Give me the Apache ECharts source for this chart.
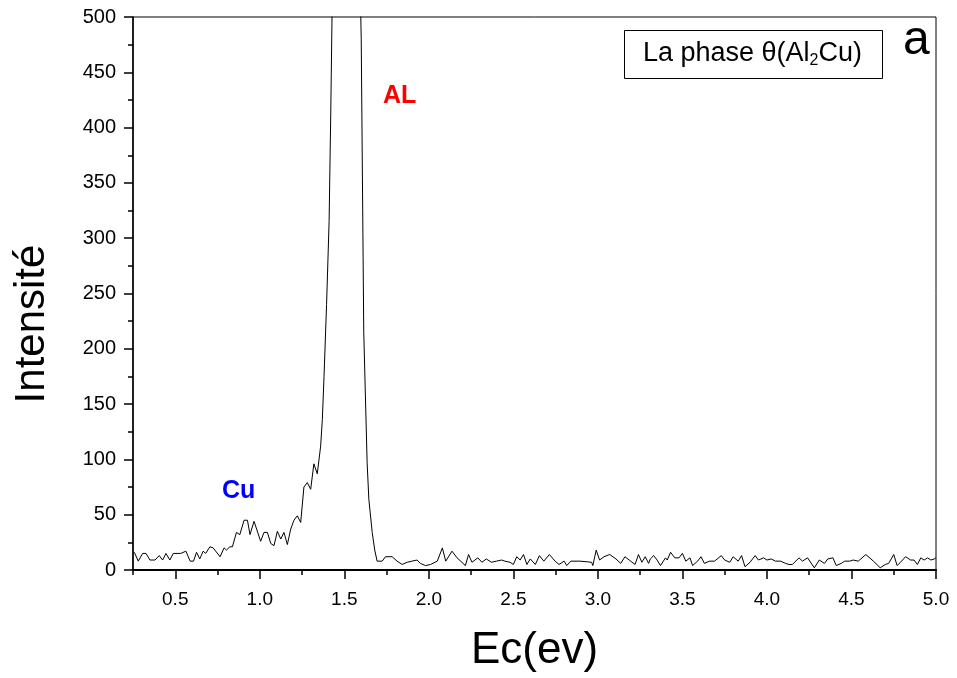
<!DOCTYPE html>
<html>
<head>
<meta charset="utf-8">
<script src="https://cdn.jsdelivr.net/npm/echarts@6/dist/echarts.min.js"></script>
<style>
html, body { margin: 0; padding: 0; background: #fff; }
#main { width: 957px; height: 678px; }
</style>
</head>
<body>
<div id="main"></div>
<script>
var ev = [0.258,0.281,0.307,0.327,0.35,0.38,0.405,0.425,0.445,0.468,0.488,0.533,0.563,0.588,0.608,0.626,0.645,0.665,0.68,0.705,0.724,0.765,0.789,0.803,0.823,0.838,0.862,0.882,0.907,0.927,
  0.942,0.966,1.005,1.025,1.045,1.065,1.084,1.104,1.124,1.143,1.163,1.183,1.202,1.222,1.242,1.261,1.281,1.301,1.32,1.34,1.36,1.37,1.38,1.395,1.41,1.42,1.44,1.47,1.50,1.53,1.56,1.59,1.60,1.615,1.635,1.645,1.665,1.68,1.694,
  1.724,1.743,1.783,1.812,1.842,1.872,1.90,1.93,1.95,1.98,2.01,2.05,2.08,2.10,2.137,2.167,2.216,2.235,2.255,2.29,2.314,2.34,2.37,2.40,2.43,2.45,2.48,
  2.50,2.52,2.54,2.56,2.58,2.60,2.63,2.654,2.68,2.713,2.747,2.77,2.80,2.816,2.84,2.895,2.963,2.97,2.99,3.01,3.036,3.07,3.107,3.135,3.16,3.194,3.22,3.24,3.26,3.28,
  3.30,3.31,3.33,3.35,3.37,3.40,3.41,3.43,3.455,3.48,3.50,3.52,3.545,3.56,3.59,3.61,3.63,3.66,3.69,3.73,3.75,3.78,3.80,3.83,3.85,3.87,3.90,3.93,3.95,3.98,4.00,4.025,4.05,4.08,4.11,
  4.13,4.15,4.19,4.21,4.24,4.28,4.31,4.34,4.36,4.39,4.41,4.44,4.46,4.49,4.51,4.54,4.585,4.63,4.67,4.70,4.72,4.75,4.77,4.79,4.82,4.85,4.87,4.89,4.91,4.93,4.95,4.97,4.99,5.00];
var counts = [16,8,15,15,9,9,13,9,15,9,15,15,17,8,8,16,10,17,15,21,20,12,20,18,21,21,34,32,45,45,
  32,44,26,34,34,24,22,35,28,34,23,37,45,49,43,75,79,73,96,87,112,136,175,240,315,415,650,1000,1200,1050,800,560,480,215,97,64,34,18,8,
  8,12,12,8,5,7,8,9,6,4,5,8,20,8,17,11,4,14,7,11,7,10,7,8,9,8,7,
  5,12,9,14,5,10,5,13,8,14,8,5,8,4,8,8,7,4,18,9,12,14,10,6,12,8,5,14,7,12,
  6,10,13,9,4,11,9,16,11,11,15,8,11,4,8,12,6,8,8,13,9,7,12,8,13,3,7,13,9,11,9,10,8,8,6,
  5,5,11,8,11,2,9,6,10,11,4,6,8,8,9,8,14,8,2,5,6,14,4,7,12,9,9,5,11,9,11,9,10,11];
var majorX = [0.5,1.0,1.5,2.0,2.5,3.0,3.5,4.0,4.5,5.0];

var points = [];
for (var i = 0; i < ev.length; i++) {
    points.push([ev[i], counts[i]]);
}

var chart = echarts.init(document.getElementById('main'));
var option = {
    animation: false,
    title: {
        text: 'La phase θ(Al{sub|2}Cu)',
        left: 624,
        top: 30,
        padding: [10, 21, 10, 19],
        borderColor: '#000',
        borderWidth: 1,
        textStyle: {
            fontFamily: 'Liberation Sans',
            fontSize: 27,
            lineHeight: 28,
            fontWeight: 'normal',
            color: '#000',
            rich: {
                sub: {
                    fontFamily: 'Liberation Sans',
                    fontSize: 16,
                    color: '#000',
                    padding: [14, 0, 0, 0]
                }
            }
        }
    },
    grid: {
        left: 133,
        right: 21,
        top: 17,
        bottom: 106,
        show: true,
        borderColor: '#000',
        borderWidth: 1
    },
    xAxis: [{
        type: 'value',
        min: 0.25,
        max: 5.0,
        name: 'Ec(ev)',
        nameLocation: 'middle',
        nameGap: 59,
        nameTextStyle: {
            fontFamily: 'Liberation Sans Narrow, Liberation Sans',
            fontSize: 44,
            color: '#000'
        },
        axisLine: { lineStyle: { color: '#000', width: 2 } },
        axisTick: { customValues: majorX, length: 9, lineStyle: { color: '#000', width: 1.5 } },
        axisLabel: {
            customValues: majorX,
            margin: 20,
            fontFamily: 'Liberation Sans Narrow, Liberation Sans',
            fontSize: 19,
            color: '#000',
            formatter: function (v) { return v.toFixed(1); }
        },
        splitLine: { show: false }
    }, {
        type: 'value',
        min: 0.25,
        max: 5.0,
        interval: 0.5,
        position: 'bottom',
        axisLine: { show: false },
        axisTick: { length: 5, lineStyle: { color: '#000', width: 1.5 } },
        axisLabel: { show: false },
        splitLine: { show: false }
    }],
    yAxis: {
        type: 'value',
        min: 0,
        max: 500,
        interval: 50,
        axisLine: { show: true, lineStyle: { color: '#000', width: 1.5 } },
        axisTick: { length: 9, lineStyle: { color: '#000', width: 1.5 } },
        minorTick: { show: true, splitNumber: 2, length: 5, lineStyle: { color: '#000', width: 1.5 } },
        axisLabel: {
            margin: 17,
            fontFamily: 'Liberation Sans',
            fontSize: 20,
            color: '#000'
        },
        splitLine: { show: false }
    },
    graphic: [{
        type: 'text',
        x: 32,
        y: 324,
        rotation: Math.PI / 2,
        style: {
            text: 'Intensité',
            fontFamily: 'Liberation Sans',
            fontSize: 42,
            fill: '#000',
            align: 'center',
            verticalAlign: 'middle'
        }
    }, {
        type: 'text',
        left: 222,
        top: 479,
        style: { text: 'Cu', fontFamily: 'Liberation Sans', fontWeight: 'bold', fontSize: 25, fill: '#0000ff' }
    }, {
        type: 'text',
        left: 383,
        top: 84,
        style: { text: 'AL', fontFamily: 'Liberation Sans', fontWeight: 'bold', fontSize: 25, fill: '#ff0000' }
    }, {
        type: 'text',
        left: 903,
        top: 17,
        style: { text: 'a', fontFamily: 'Liberation Sans', fontSize: 48, fill: '#000' }
    }],
    series: [{
        type: 'line',
        data: points,
        showSymbol: false,
        clip: true,
        lineStyle: { color: '#000', width: 1 }
    }]
};
chart.setOption(option);
</script>
</body>
</html>
